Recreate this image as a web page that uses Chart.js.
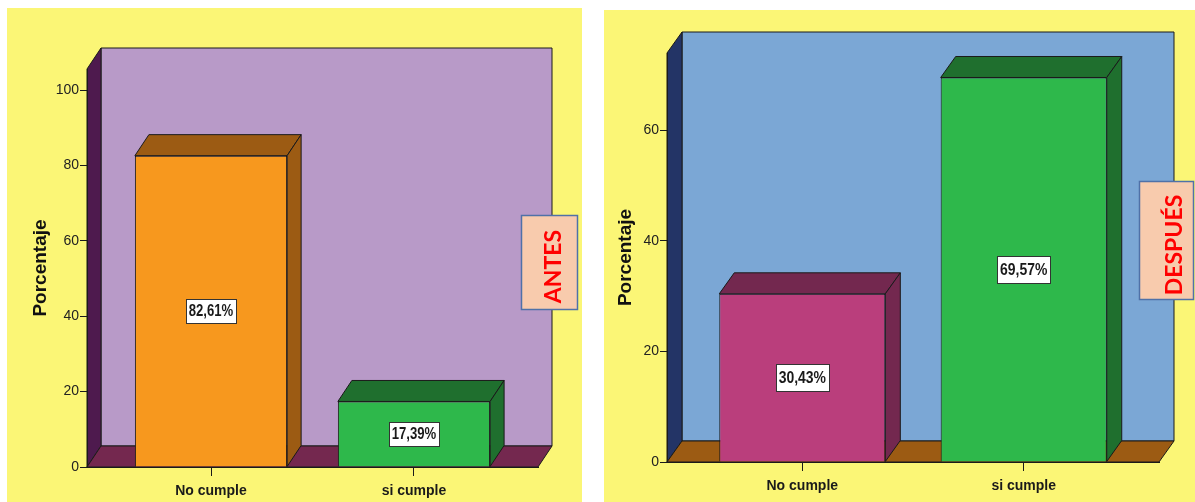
<!DOCTYPE html>
<html>
<head>
<meta charset="utf-8">
<script src="https://cdn.jsdelivr.net/npm/chart.js@4.4.1/dist/chart.umd.min.js"></script>
<style>
  body { margin: 0; background: #fff; width: 1195px; height: 502px; overflow: hidden; position: relative; }
  .panel { position: absolute; background: #fbf676; }
  #panelAntes { left: 7px; top: 8px; width: 575px; height: 494px; }
  #panelDespues { left: 604px; top: 10px; width: 591px; height: 492px; }
  canvas { display: block; }
</style>
</head>
<body>
<div class="panel" id="panelAntes"><canvas id="graficoAntes" width="575" height="494"></canvas></div>
<div class="panel" id="panelDespues"><canvas id="graficoDespues" width="591" height="492"></canvas></div>
<script>
const categorias = ["No cumple", "si cumple"];
const valoresAntes = [82.61, 17.39];
const valoresDespues = [30.43, 69.57];
const ticksAntes = [0, 20, 40, 60, 80, 100];
const ticksDespues = [0, 20, 40, 60];

const fuente = "'Liberation Sans', Arial, sans-serif";

function poligono(ctx, pts, relleno) {
  ctx.beginPath();
  ctx.moveTo(pts[0][0], pts[0][1]);
  for (let i = 1; i < pts.length; i++) ctx.lineTo(pts[i][0], pts[i][1]);
  ctx.closePath();
  ctx.fillStyle = relleno;
  ctx.fill();
  ctx.stroke();
}

function formato(v) {
  return v.toFixed(2).replace(".", ",") + "%";
}

// dibuja paredes, caras de barras, etiquetas y el cuadro de texto
const cubo3d = {
  id: "cubo3d",
  beforeDraw(chart, args, o) {
    const ctx = chart.ctx;
    const a = chart.chartArea;
    ctx.save();
    ctx.lineWidth = 1;
    ctx.strokeStyle = "#1a1a1a";
    poligono(ctx, [[a.left + o.dx, a.top + o.dy], [a.right + o.dx, a.top + o.dy], [a.right + o.dx, a.bottom + o.dy], [a.left + o.dx, a.bottom + o.dy]], o.fondo);
    poligono(ctx, [[a.left, a.top], [a.left + o.dx, a.top + o.dy], [a.left + o.dx, a.bottom + o.dy], [a.left, a.bottom]], o.pared);
    poligono(ctx, [[a.left, a.bottom], [a.left + o.dx, a.bottom + o.dy], [a.right + o.dx, a.bottom + o.dy], [a.right, a.bottom]], o.piso);
    ctx.restore();
  },
  afterDatasetsDraw(chart, args, o) {
    const ctx = chart.ctx;
    const meta = chart.getDatasetMeta(0);
    const ds = chart.data.datasets[0];
    ctx.save();
    ctx.lineWidth = 1;
    meta.data.forEach((bar, i) => {
      const p = bar.getProps(["x", "y", "base", "width"], true);
      const l = p.x - p.width / 2, r = p.x + p.width / 2;
      ctx.strokeStyle = "#1a1a1a";
      poligono(ctx, [[l, p.y], [l + o.dx, p.y + o.dy], [r + o.dx, p.y + o.dy], [r, p.y]], o.sombras[i]);
      poligono(ctx, [[r, p.y], [r + o.dx, p.y + o.dy], [r + o.dx, p.base + o.dy], [r, p.base]], o.sombras[i]);

      // etiqueta de valor (texto estrecho)
      const txt = formato(ds.data[i].y);
      ctx.font = "bold " + o.tamEtiqueta + "px " + fuente;
      const tw = ctx.measureText(txt).width * 0.82;
      const w = Math.round(tw + 6);
      const h = o.altoEtiqueta;
      const cy = (p.y + p.base) / 2;
      const bx = Math.round(p.x - w / 2) + 0.5, by = Math.round(cy - h / 2) + 0.5;
      ctx.fillStyle = "#fff";
      ctx.strokeStyle = "#333";
      ctx.fillRect(bx, by, w, h);
      ctx.strokeRect(bx, by, w, h);
      ctx.save();
      ctx.translate(p.x, cy + 1);
      ctx.scale(0.82, 1);
      ctx.fillStyle = "#1a1a1a";
      ctx.textAlign = "center";
      ctx.textBaseline = "middle";
      ctx.fillText(txt, 0, 0);
      ctx.restore();
    });
    ctx.restore();
  },
  afterDraw(chart, args, o) {
    const c = o.caja;
    const ctx = chart.ctx;
    ctx.save();
    ctx.fillStyle = "#f8cbad";
    ctx.strokeStyle = "#4f71a8";
    ctx.lineWidth = 1.5;
    ctx.fillRect(c.x, c.y, c.w, c.h);
    ctx.strokeRect(c.x, c.y, c.w, c.h);
    ctx.translate(c.tx, c.ty);
    ctx.rotate(-Math.PI / 2);
    ctx.fillStyle = "#ff0000";
    ctx.font = "bold 23px Lato, 'Liberation Sans', sans-serif";
    ctx.textAlign = "center";
    ctx.textBaseline = "alphabetic";
    ctx.fillText(c.texto, 0, 0);
    ctx.restore();
  }
};

function crearGrafico(id, valores, ticksY, maxY, colores, opciones3d, medidas) {
  new Chart(document.getElementById(id), {
    type: "bar",
    data: {
      datasets: [{
        data: valores.map((v, i) => ({ x: i, y: v })),
        backgroundColor: colores,
        borderColor: "#1a1a1a",
        borderWidth: 1,
        categoryPercentage: 1,
        barPercentage: 0.75,
      }],
    },
    options: {
      responsive: false,
      animation: false,
      layout: {
        padding: { left: medidas.padIzq, top: medidas.padSup, right: medidas.padDer, bottom: 0 },
      },
      scales: {
        x: {
          type: "linear",
          offset: false,
          min: -0.611,
          max: 1.611,
          afterBuildTicks: s => { s.ticks = categorias.map((c, i) => ({ value: i })); },
          afterFit: s => { s.height = medidas.altoX; },
          ticks: {
            callback: v => categorias[v],
            color: "#1a1a1a",
            font: { family: fuente, size: 14, weight: "bold" },
            padding: 7,
            maxRotation: 0,
          },
          grid: { offset: false, drawOnChartArea: false, tickLength: 9, color: "#1a1a1a" },
          border: { color: "#1a1a1a", width: 1 },
        },
        y: {
          min: 0,
          max: maxY,
          afterBuildTicks: s => { s.ticks = ticksY.map(v => ({ value: v })); },
          afterFit: s => { s.width = medidas.anchoY; },
          ticks: {
            color: "#222",
            font: { family: fuente, size: 14 },
            padding: 1,
          },
          grid: { drawOnChartArea: false, tickLength: 7, color: "#1a1a1a" },
          border: { color: "#1a1a1a", width: 1 },
          title: {
            display: true,
            text: "Porcentaje",
            color: "#111",
            font: { family: fuente, size: 19, weight: "bold" },
            padding: 0,
          },
        },
      },
      plugins: {
        legend: { display: false },
        tooltip: { enabled: false },
        cubo3d: opciones3d,
      },
    },
    plugins: [cubo3d],
  });
}

crearGrafico("graficoAntes", valoresAntes, ticksAntes, 105.6,
  ["#f7981e", "#2eb84b"],
  {
    dx: 14, dy: -21,
    fondo: "#b89ac8", pared: "#4e1a4e", piso: "#74284f",
    sombras: ["#9c5b13", "#1f6f2e"],
    tamEtiqueta: 16, altoEtiqueta: 24,
    caja: { x: 514.5, y: 207.5, w: 56, h: 94, tx: 554, ty: 258.5, texto: "ANTES" },
  },
  { padIzq: 22, padSup: 61, padDer: 44, altoX: 35, anchoY: 58 });

crearGrafico("graficoDespues", valoresDespues, ticksDespues, 74,
  ["#ba3e7c", "#2eb84b"],
  {
    dx: 15, dy: -21,
    fondo: "#7ba7d5", pared: "#233466", piso: "#9c5b13",
    sombras: ["#73284f", "#1f6f2e"],
    tamEtiqueta: 17, altoEtiqueta: 27,
    caja: { x: 535.5, y: 171.5, w: 54, h: 118, tx: 578, ty: 235, texto: "DESPUÉS" },
  },
  { padIzq: 10, padSup: 43, padDer: 36, altoX: 40, anchoY: 53 });
</script>
</body>
</html>
